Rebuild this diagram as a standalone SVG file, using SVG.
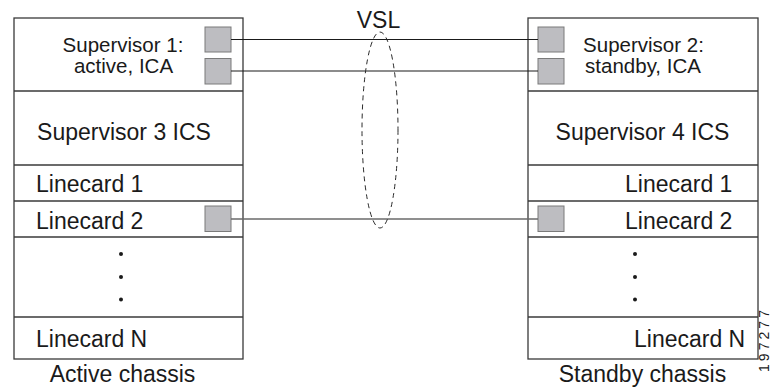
<svg xmlns="http://www.w3.org/2000/svg" width="771" height="387" viewBox="0 0 771 387">
<style>
.box{fill:#fff;stroke:#3a3a3a;stroke-width:1.3}
.div{stroke:#3a3a3a;stroke-width:1.3}
.port{fill:#bdbdc1;stroke:#7a7a7a;stroke-width:1}
.t{font-family:"Liberation Sans",Arial,sans-serif;fill:#1a1a1a}
.big{font-size:23px}
.sm{font-size:20.5px}
.link{stroke:#1a1a1a;stroke-width:1.2;fill:none}
.dot{fill:#1a1a1a}
</style>
<rect width="771" height="387" fill="#fff"/>
<g id="active-chassis">
<rect class="box" x="14" y="18" width="229" height="341"/>
<line class="div" x1="14" y1="91" x2="243" y2="91"/>
<line class="div" x1="14" y1="165" x2="243" y2="165"/>
<line class="div" x1="14" y1="201" x2="243" y2="201"/>
<line class="div" x1="14" y1="237" x2="243" y2="237"/>
<line class="div" x1="14" y1="317" x2="243" y2="317"/>
<text class="t sm" x="123" y="52" text-anchor="middle">Supervisor 1:</text>
<text class="t sm" x="123.5" y="73" text-anchor="middle">active, ICA</text>
<text class="t big" x="124" y="140" text-anchor="middle">Supervisor 3 ICS</text>
<text class="t big" x="36" y="192">Linecard 1</text>
<text class="t big" x="36" y="229">Linecard 2</text>
<circle class="dot" cx="121" cy="254" r="2"/>
<circle class="dot" cx="121" cy="277" r="2"/>
<circle class="dot" cx="121" cy="299.5" r="2"/>
<text class="t big" x="36" y="347">Linecard N</text>
<rect class="port" x="205" y="27" width="26" height="25"/>
<rect class="port" x="205" y="58.5" width="26" height="25.5"/>
<rect class="port" x="205" y="206" width="26" height="25.5"/>
<text class="t big" x="122.5" y="382" text-anchor="middle">Active chassis</text>
</g>
<g id="standby-chassis">
<rect class="box" x="528" y="18" width="230" height="341"/>
<line class="div" x1="528" y1="91" x2="758" y2="91"/>
<line class="div" x1="528" y1="165" x2="758" y2="165"/>
<line class="div" x1="528" y1="201" x2="758" y2="201"/>
<line class="div" x1="528" y1="237" x2="758" y2="237"/>
<line class="div" x1="528" y1="317" x2="758" y2="317"/>
<text class="t sm" x="643.5" y="52" text-anchor="middle">Supervisor 2:</text>
<text class="t sm" x="643" y="73" text-anchor="middle">standby, ICA</text>
<text class="t big" x="642.5" y="140" text-anchor="middle">Supervisor 4 ICS</text>
<text class="t big" x="625" y="192">Linecard 1</text>
<text class="t big" x="625" y="229">Linecard 2</text>
<circle class="dot" cx="635" cy="254" r="2"/>
<circle class="dot" cx="635" cy="277" r="2"/>
<circle class="dot" cx="635" cy="299.5" r="2"/>
<text class="t big" x="634" y="347">Linecard N</text>
<rect class="port" x="538" y="27" width="26" height="25"/>
<rect class="port" x="538" y="58.5" width="26" height="25.5"/>
<rect class="port" x="538" y="206" width="26" height="25.5"/>
<text class="t big" x="642.5" y="382" text-anchor="middle">Standby chassis</text>
</g>
<g id="connectors">
<line class="link" x1="231" y1="39.5" x2="538" y2="39.5"/>
<line class="link" x1="231" y1="71" x2="538" y2="71"/>
<line class="link" x1="231" y1="219" x2="538" y2="219" style="stroke:#6a6a6a;stroke-width:1.5"/>
</g>
<g id="vsl">
<ellipse cx="380" cy="130" rx="18" ry="98" fill="none" stroke="#2a2a2a" stroke-width="1" stroke-dasharray="5,4"/>
<text class="t big" x="378.5" y="28" text-anchor="middle">VSL</text>
</g>
<text class="t" font-size="14" x="0" y="0" transform="translate(768.5,372) rotate(-90)" textLength="62" lengthAdjust="spacing">197277</text>
</svg>
